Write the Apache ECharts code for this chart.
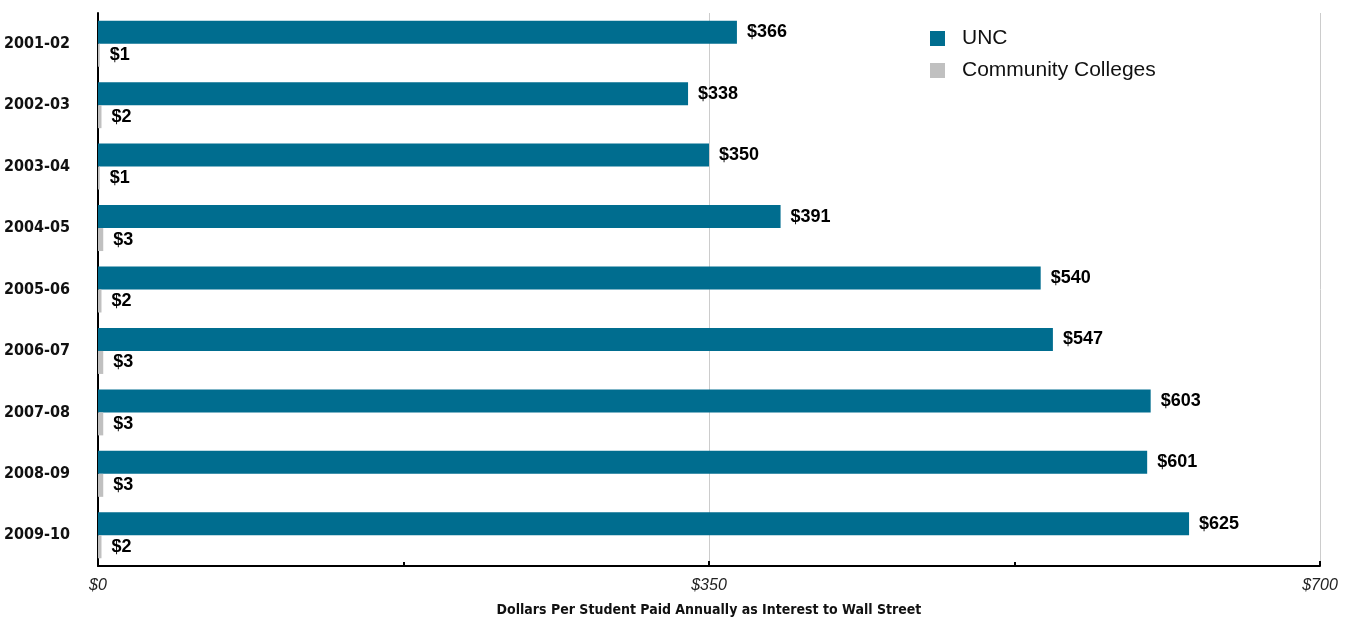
<!DOCTYPE html>
<html>
<head>
<meta charset="utf-8">
<script src="https://cdn.jsdelivr.net/npm/echarts@6/dist/echarts.min.js"></script>
<style>html,body{margin:0;padding:0;background:#fff}#c{width:1353px;height:619px}</style>
</head>
<body>
<div id="c"></div>
<script>
const categories = ['2001-02','2002-03','2003-04','2004-05','2005-06','2006-07','2007-08','2008-09','2009-10'];
const uncValues = [366, 338, 350, 391, 540, 547, 603, 601, 625];
const ccValues = [1, 2, 1, 3, 2, 3, 3, 3, 2];
const seriesNames = ['UNC', 'Community Colleges'];
const axisTitle = 'Dollars Per Student Paid Annually as Interest to Wall Street';

const narrow = '"DejaVu Sans Condensed", "Liberation Sans Narrow", sans-serif';
const sans = '"Liberation Sans", Arial, Helvetica, sans-serif';

const chart = echarts.init(document.getElementById('c'), null, {renderer: 'canvas'});
const valueLabel = {
  show: true, position: 'right', distance: 10,
  formatter: p => '$' + p.value,
  fontFamily: sans, fontWeight: 'bold', fontSize: 18, color: '#000'
};
chart.setOption({
  animation: false,
  grid: {left: 98, right: 33, top: 13, bottom: 53, containLabel: false, outerBoundsMode: 'none'},
  legend: {
    orient: 'vertical', left: 930, top: 28, padding: 0,
    itemWidth: 15, itemHeight: 15, itemGap: 11, icon: 'rect',
    textStyle: {fontFamily: sans, fontSize: 21, color: '#111', padding: [0, 0, 0, 12]},
    data: seriesNames
  },
  xAxis: {
    type: 'value', min: 0, max: 700, interval: 350,
    name: axisTitle, nameLocation: 'middle', nameGap: 37,
    nameTextStyle: {fontFamily: narrow, fontWeight: 'bold', fontSize: 14, color: '#111'},
    axisLine: {show: true, lineStyle: {color: '#000', width: 2}},
    axisTick: {show: true, inside: true, length: 5, lineStyle: {color: '#000', width: 2}},
    minorTick: {show: true, splitNumber: 2, length: 4, lineStyle: {color: '#000', width: 2}},
    axisLabel: {formatter: v => '$' + v, fontFamily: sans, fontStyle: 'italic', fontSize: 16, color: '#222', margin: 12},
    splitLine: {show: true, lineStyle: {color: '#cccccc', width: 1}}
  },
  yAxis: {
    type: 'category', data: categories, inverse: true,
    axisLine: {show: true, lineStyle: {color: '#000', width: 2}},
    axisTick: {show: false},
    axisLabel: {fontFamily: narrow, fontWeight: 'bold', fontSize: 16, color: '#111', margin: 28}
  },
  series: [
    {name: seriesNames[0], type: 'bar', data: uncValues, barWidth: 23, barGap: '0%',
     itemStyle: {color: '#006d8f'}, label: valueLabel},
    {name: seriesNames[1], type: 'bar', data: ccValues, barWidth: 23, barGap: '0%',
     itemStyle: {color: '#c0c0c0'}, label: valueLabel}
  ]
});
</script>
</body>
</html>
